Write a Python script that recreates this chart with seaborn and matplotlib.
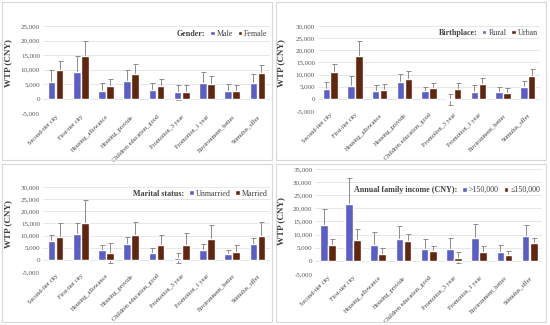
import numpy as np
import pandas as pd
import matplotlib
matplotlib.use("Agg")
import matplotlib.pyplot as plt
from matplotlib.patches import Patch, Rectangle
import seaborn as sns

categories = ["Second-tier city", "First-tier city", "Housing_allowance", "Housing_provide",
              "Children education_good", "Promotion_3 year", "Promotion_1 year",
              "Environment_better", "Stimulus_offer"]

# Gender
male = [5700, 9000, 2500, 6100, 3000, 2200, 5500, 2500, 5300]
male_err = [4100, 5800, 2700, 3700, 2200, 2650, 3600, 2450, 3100]
female = [9900, 14700, 4300, 8500, 4200, 2300, 4900, 2700, 8800]
female_err = [3200, 5100, 2600, 3400, 2400, 2550, 2800, 2000, 2800]

# Birthplace
rural = [4000, 5500, 3300, 7100, 3100, -300, 2900, 3000, 4900]
rural_err = [2800, 3900, 2400, 3000, 1900, 2300, 2800, 1900, 2600]
urban = [11200, 17800, 3800, 8100, 4500, 3900, 6100, 2500, 9400]
urban_err = [3200, 6000, 2300, 3300, 2000, 2600, 2700, 2000, 3000]

# Marital status
unmarried = [7600, 10800, 3900, 6500, 2800, 800, 4000, 2300, 6700]
unmarried_err = [2800, 4200, 2100, 2800, 2000, 2100, 2600, 1800, 2300]
married = [9400, 15100, 3000, 10400, 6100, 6100, 8400, 3100, 10000]
married_err = [5600, 9400, 4100, 5300, 4300, 4900, 5800, 2900, 5500]

# Annual family income
high_inc = [13700, 21800, 6000, 8200, 4700, 4400, 8600, 3300, 9300]
high_inc_err = [6100, 9900, 5100, 4900, 3600, 4200, 5300, 2600, 4500]
low_inc = [5900, 8100, 2600, 7500, 3600, 1200, 3500, 2400, 6800]
low_inc_err = [2500, 4200, 2300, 2600, 2000, 2200, 2300, 1500, 2000]

panels = [
    dict(title="Gender:", names=["Male", "Female"], vals=[male, female],
         errs=[male_err, female_err], ymax=25000,
         rect=[0.078, 0.652, 0.413, 0.268], ylab=(-0.137, 0.58), leg=(0.99, 0.91)),
    dict(title="Birthplace:", names=["Rural", "Urban"], vals=[rural, urban],
         errs=[rural_err, urban_err], ymax=30000,
         rect=[0.578, 0.658, 0.404, 0.262], ylab=(-0.149, 0.56), leg=(0.99, 0.92)),
    dict(title="Marital status:", names=["Unmarried", "Married"], vals=[unmarried, married],
         errs=[unmarried_err, married_err], ymax=30000,
         rect=[0.078, 0.163, 0.413, 0.262], ylab=(-0.137, 0.56), leg=(0.99, 0.92)),
    dict(title="Annual family income (CNY):", names=[">150,000", "\u2264150,000"],
         vals=[high_inc, low_inc], errs=[high_inc_err, low_inc_err], ymax=35000,
         rect=[0.573, 0.157, 0.413, 0.323], ylab=(-0.13, 0.5), leg=(0.99, 0.8)),
]

colors = ["#5b5ec6", "#62260f"]
serif = ["Liberation Serif", "DejaVu Serif"]

sns.set_theme(style="white")
plt.rcParams["font.family"] = serif

fig = plt.figure(figsize=(5.5, 3.25), dpi=100)

# panel frames
for (x0, y0) in [(2, 2), (276, 2), (2, 164), (276, 164)]:
    fig.patches.append(Rectangle((x0 / 550, 1 - (y0 + 158) / 325), 270 / 550, 158 / 325,
                                 transform=fig.transFigure, fill=False,
                                 edgecolor="#d9d9d9", linewidth=0.8))

for p in panels:
    ax = fig.add_axes(p["rect"])
    df = pd.DataFrame({
        "cat": categories * 2,
        "grp": [p["names"][0]] * 9 + [p["names"][1]] * 9,
        "val": list(p["vals"][0]) + list(p["vals"][1]),
        "err": list(p["errs"][0]) + list(p["errs"][1]),
    })
    sns.barplot(data=df, x="cat", y="val", hue="grp", palette=colors, ax=ax,
                width=0.64, gap=0.06, errorbar=None, legend=False, zorder=2,
                saturation=1)
    for cont, grp in zip(ax.containers, p["names"]):
        sub = df[df["grp"] == grp]
        xs = [b.get_x() + b.get_width() / 2 for b in cont]
        ax.errorbar(xs, sub["val"].values, yerr=sub["err"].values, fmt="none",
                    ecolor="#8c8c8c", elinewidth=0.7, capsize=1.8, capthick=0.7,
                    zorder=1.5)
    ax.set_ylim(-5000, p["ymax"])
    ax.set_xlim(-0.5, 8.5)
    ax.set_yticks(np.arange(-5000, p["ymax"] + 1, 5000))
    ax.set_yticklabels([f"{v:,}" for v in np.arange(-5000, p["ymax"] + 1, 5000)],
                       fontsize=5, color="#595959")
    ax.set_xticks(range(9))
    ax.set_xticklabels(categories, rotation=45, ha="right", rotation_mode="anchor",
                       fontsize=4.5, color="#404040")
    ax.tick_params(axis="y", length=0, pad=2)
    ax.tick_params(axis="x", length=0, pad=1)
    ax.yaxis.grid(True, color="#e3e3e3", linewidth=0.6)
    ax.set_axisbelow(True)
    for s in ax.spines.values():
        s.set_visible(False)
    ax.set_xlabel("")
    ax.set_ylabel("WTP (CNY)", fontsize=6.5, fontweight="bold", color="#404040")
    ax.yaxis.set_label_coords(*p["ylab"])
    handles = [Patch(facecolor="none", edgecolor="none"),
               Patch(facecolor=colors[0]), Patch(facecolor=colors[1])]
    labels = [p["title"]] + p["names"]
    leg = ax.legend(handles, labels, ncol=3, loc="center right",
                    bbox_to_anchor=p["leg"], frameon=False, fontsize=5.8,
                    handlelength=0.55, handleheight=0.55, handletextpad=0.25,
                    columnspacing=0.6, borderpad=0, borderaxespad=0)
    for i, t in enumerate(leg.get_texts()):
        t.set_color("#404040")
        if i == 0:
            t.set_fontweight("bold")

fig.savefig("out.png", dpi=100)
